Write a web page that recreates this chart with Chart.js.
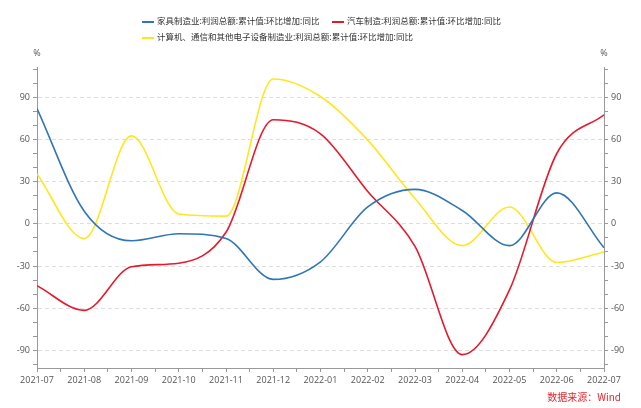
<!DOCTYPE html>
<html>
<head>
<meta charset="utf-8">
<script src="https://cdn.jsdelivr.net/npm/chart.js@4.4.1/dist/chart.umd.min.js"></script>
<style>
  body { margin: 0; background: #fff; }
  #wrap { position: relative; width: 641px; height: 408px; }
  #chart { position: absolute; left: 0; top: 0; }
  .legend-item {
    position: absolute;
    font: 8.5px "Noto Sans CJK SC", sans-serif;
    color: #333;
    white-space: nowrap;
    line-height: 12px;
  }
  .swatch { display: inline-block; width: 12px; height: 2px; vertical-align: middle; margin-right: 3px; }
  #source {
    position: absolute; right: 20px; top: 389px;
    font: 10px "Noto Sans CJK SC", sans-serif; color: #e5262b;
  }
</style>
</head>
<body>
<div id="wrap">
  <canvas id="chart" width="641" height="408"></canvas>
  <div class="legend-item" style="left:142px; top:14px"><span class="swatch" style="background:#2f76b6"></span>家具制造业:利润总额:累计值:环比增加:同比</div>
  <div class="legend-item" style="left:332px; top:14px"><span class="swatch" style="background:#e41a2b"></span>汽车制造:利润总额:累计值:环比增加:同比</div>
  <div class="legend-item" style="left:142px; top:30px"><span class="swatch" style="background:#ffe61e"></span>计算机、通信和其他电子设备制造业:利润总额:累计值:环比增加:同比</div>
  <div id="source">数据来源：Wind</div>
</div>
<script>
const months = ["2021-07", "2021-08", "2021-09", "2021-10", "2021-11", "2021-12",
  "2022-01", "2022-02", "2022-03", "2022-04", "2022-05", "2022-06", "2022-07"];

const furniture = [82, 9, -12, -7, -10.5, -39.5, -27, 12, 24.5, 9.5, -15.5, 22, -17];
const auto = [-44, -61.5, -30.5, -28, -6, 74, 64, 23, -16, -93, -47, 50, 77.5];
const electronics = [35.5, -10.5, 62.5, 7, 5.5, 103, 90.5, 59.5, 18, -15.5, 12, -27.5, -20];

function toPoints(arr) {
  return arr.map((v, i) => ({ x: i, y: v }));
}

function line(label, data, color) {
  return {
    label: label,
    data: toPoints(data),
    borderColor: color,
    backgroundColor: color,
    borderWidth: 1.6,
    pointRadius: 0,
    cubicInterpolationMode: "monotone",
    yAxisID: "y",
  };
}

// % labels above both y axes
const unitLabels = {
  id: "unitLabels",
  afterDraw(chart) {
    const ctx = chart.ctx;
    ctx.save();
    ctx.font = '9px "Open Sans"';
    ctx.fillStyle = "#555";
    ctx.textAlign = "center";
    ctx.textBaseline = "middle";
    ctx.fillText("%", chart.scales.y.right, 53);
    ctx.fillText("%", chart.scales.y2.left, 53);
    ctx.restore();
  },
};

function yAxis(position) {
  return {
    type: "linear",
    position: position,
    min: -102.5,
    max: 111.5,
    afterBuildTicks: (s) => { s.ticks = s.ticks.filter((t) => t.value % 10 === 0); },
    afterFit: (s) => { s.width = 37; },
    ticks: {
      stepSize: 10,
      includeBounds: false,
      autoSkip: false,
      padding: 3,
      color: "#555",
      font: { family: "Open Sans", size: 9 },
      callback: (v) => (v % 30 === 0 ? v : ""),
    },
    grid: {
      drawOnChartArea: position === "left",
      color: (c) => (c.tick && c.tick.value % 30 === 0 ? "#dddddd" : "rgba(0,0,0,0)"),
      tickColor: "#999",
      tickLength: 4,
      lineWidth: 1,
    },
    border: { color: "#999", width: 1, dash: [4, 3] },
  };
}

new Chart(document.getElementById("chart"), {
  type: "line",
  data: {
    datasets: [
      line("家具制造业:利润总额:累计值:环比增加:同比", furniture, "#2f76b6"),
      line("汽车制造:利润总额:累计值:环比增加:同比", auto, "#e41a2b"),
      line("计算机、通信和其他电子设备制造业:利润总额:累计值:环比增加:同比", electronics, "#ffe61e"),
    ],
  },
  options: {
    responsive: false,
    animation: false,
    layout: { padding: { top: 67, left: 0, right: 0, bottom: 0 } },
    plugins: { legend: { display: false }, tooltip: { enabled: false } },
    scales: {
      x: {
        type: "linear",
        min: 0,
        max: 12,
        afterFit: (s) => { s.height = 40; },
        ticks: {
          stepSize: 0.5,
          autoSkip: false,
          maxRotation: 0,
          padding: 3,
          color: "#555",
          font: { family: "Open Sans", size: 9 },
          callback: (v) => (Number.isInteger(v) ? months[v] : ""),
        },
        grid: { drawOnChartArea: false, tickColor: "#999", tickLength: 4 },
        border: { color: "#999", width: 1 },
      },
      y: yAxis("left"),
      y2: yAxis("right"),
    },
  },
  plugins: [unitLabels],
});
</script>
</body>
</html>
